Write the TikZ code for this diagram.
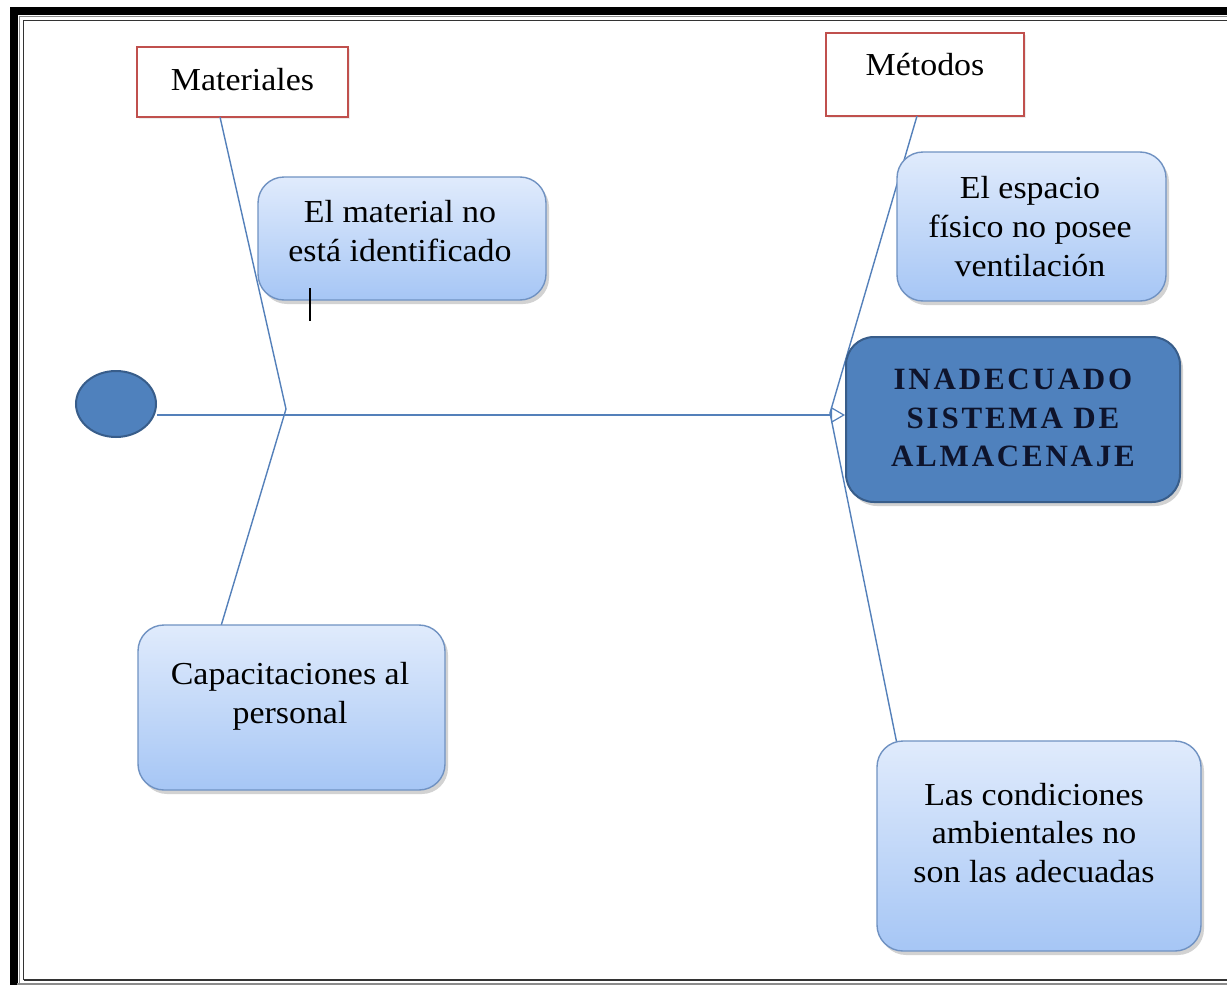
\documentclass[tikz,border=0pt]{standalone}
\usepackage{fontspec}
\setmainfont{Liberation Serif}
\usetikzlibrary{arrows.meta,shadows,calc,shapes.geometric}
\definecolor{lineblue}{RGB}{84,128,186}
\definecolor{ellfill}{RGB}{79,129,189}
\definecolor{darkblue}{RGB}{56,93,138}
\definecolor{redb}{RGB}{192,80,77}
\definecolor{gtop}{RGB}{224,235,252}
\definecolor{gbot}{RGB}{166,198,245}
\definecolor{gborder}{RGB}{112,146,194}
\definecolor{navytext}{RGB}{14,20,44}
\begin{document}
\begin{tikzpicture}[x=0.5pt,y=-0.5pt,
  txt/.style={font=\fontsize{16}{19.3}\selectfont\addfontfeature{FakeStretch=1.06}, align=center, inner sep=0pt, text=black},
  catbox/.style={draw=redb, line width=1.3pt, fill=white, rectangle, inner sep=0pt,
     drop shadow={opacity=0.15, shadow xshift=1pt, shadow yshift=-1pt}},
  causebox/.style={draw=gborder, line width=0.7pt, rounded corners=13pt, rectangle, inner sep=0pt,
     top color=gtop, bottom color=gbot,
     drop shadow={opacity=0.35, shadow xshift=1.5pt, shadow yshift=-2pt}},
  effectbox/.style={draw=darkblue, line width=1pt, rounded corners=14pt, fill=ellfill, rectangle, inner sep=0pt,
     drop shadow={opacity=0.35, shadow xshift=1.5pt, shadow yshift=-2pt}},
  bone/.style={draw=lineblue, line width=0.7pt},
  frameline/.style={line cap=rect}
]
\useasboundingbox (0,0) rectangle (1227,985);
\fill[white] (0,0) rectangle (1227,985);

% frame
\draw[frameline, line width=3.6pt, black] (14,990) -- (14,11) -- (1235,11);
\draw[frameline, line width=0.6pt, black!45] (19.5,990) -- (19.5,16.5) -- (1235,16.5);
\draw[line width=0.9pt, black!80] (23.5,980) -- (23.5,20.5) -- (1235,20.5);
\draw[line width=0.9pt, black!80] (23.5,980) -- (1235,980);
\draw[line width=1.2pt, black!45] (17,984) -- (1235,984);

% nodes
\node[catbox, minimum width=105.5pt, minimum height=35pt] (mat) at (242.5,82) {};
\node[txt] (matt) at (242.5,80) {Materiales};
\node[catbox, minimum width=99pt, minimum height=41.5pt] (met) at (925,74.5) {};
\node[txt] (mett) at (925,65) {Métodos};

\node[ellipse, draw=darkblue, line width=1pt, fill=ellfill, minimum width=40pt, minimum height=33pt, inner sep=0pt] (ell) at (116,404) {};

% bones
\coordinate (s0) at (157,415);
\coordinate (s1) at (845,415);
\coordinate (jm) at (286,409);
\coordinate (jr) at (830,413);
\coordinate (ma) at (220,117);
\coordinate (mb) at (221,626);
\coordinate (ra) at (917,116);
\coordinate (rb) at (897,744);
\draw[bone, -{Triangle[open, length=7pt, width=8pt, line width=0.6pt]}] (s0) -- (s1);
\draw[bone] (ma) -- (jm) -- (mb);
\draw[bone] (ra) -- (jr) -- (rb);

% cause boxes
\node[causebox, minimum width=144pt, minimum height=61.5pt] (b1) at (402,238.5) {};
\node[txt] (b1t) at (400,231) {El material no\\está identificado};
\node[causebox, minimum width=134.5pt, minimum height=74.5pt] (b2) at (1031.5,226.5) {};
\node[txt] (b2t) at (1030,226.5) {El espacio\\físico no posee\\ventilación};
\node[causebox, minimum width=153.5pt, minimum height=82.5pt] (b3) at (291.5,707.5) {};
\node[txt] (b3t) at (290,696) {Capacitaciones al\\personal};
\node[causebox, minimum width=162pt, minimum height=105pt] (b4) at (1039,846) {};
\node[txt] (b4t) at (1034,833) {Las condiciones\\ambientales no\\son las adecuadas};

% effect
\node[effectbox, minimum width=167pt, minimum height=82.5pt] (main) at (1013,419.5) {};
\node[align=center, inner sep=0pt, text=navytext,
  font=\fontsize{15.5}{19.3}\selectfont\bfseries\addfontfeature{LetterSpace=9}] (maint) at (1013,418)
  {INADECUADO\\SISTEMA DE\\ALMACENAJE};

% cursor mark
\draw[line width=1.4pt, black] (310,288) -- (310,321);
\end{tikzpicture}
\end{document}
